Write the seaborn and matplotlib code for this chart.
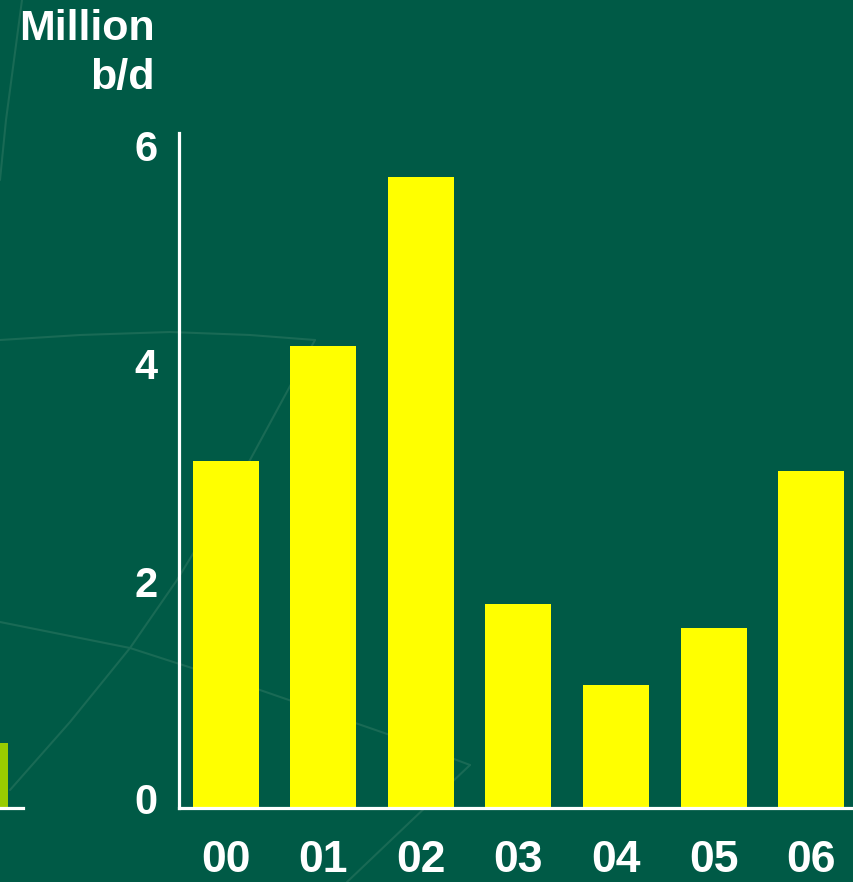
import matplotlib
matplotlib.use("Agg")
import matplotlib.pyplot as plt
import matplotlib.transforms as mtransforms
import seaborn as sns
import pandas as pd

# Crude oil supply changes, million barrels per day
years = ["00", "01", "02", "03", "04", "05", "06"]
values = [3.19, 4.24, 5.80, 1.87, 1.13, 1.65, 3.10]
y_ticks = [0, 2, 4, 6]

# Neighbouring panel, only its last bar shows at the edge
side_labels = ["06"]
side_values = [0.60]

BG = "#005A46"
BAR = "#FFFF00"
SIDE_BAR = "#99CC00"
WHITE = "#FFFFFF"
FAINT = "#196A55"

sns.set_theme(style="white")
plt.rcParams["font.family"] = ["Liberation Sans", "DejaVu Sans"]
plt.rcParams["font.weight"] = "bold"

W, H = 854, 882
fig = plt.figure(figsize=(W / 100, H / 100), dpi=100)
fig.patch.set_facecolor(BG)

# faint decorative curves in the backdrop
def px(points):
    xs = [p[0] / W for p in points]
    ys = [1 - p[1] / H for p in points]
    return xs, ys

decor = [
    [(22, 0), (14, 60), (6, 120), (0, 180)],
    [(0, 340), (80, 335), (170, 332), (250, 335), (315, 340)],
    [(315, 340), (250, 460), (177, 580), (130, 648), (70, 722), (10, 790)],
    [(0, 622), (130, 648), (260, 690), (390, 735), (470, 765)],
    [(470, 765), (410, 822), (347, 882)],
]
for seg in decor:
    xs, ys = px(seg)
    fig.add_artist(plt.Line2D(xs, ys, transform=fig.transFigure,
                              color=FAINT, lw=1.5, zorder=0))

bottom = 1 - 808 / H
top = 1 - 133 / H
ymax = 6.2

ax = fig.add_axes([179.5 / W, bottom, 1 - 179.5 / W, top - bottom])
ax.set_facecolor("none")
df = pd.DataFrame({"year": years, "value": values})
sns.barplot(data=df, x="year", y="value", color=BAR, saturation=1,
            width=0.677, ax=ax, edgecolor="none")
ax.set_xlim(-0.475, 6.44)
ax.set_ylim(0, ymax)
ax.set_yticks(y_ticks)
ax.set_yticklabels([str(t) for t in y_ticks])
ax.set_xlabel("")
ax.set_ylabel("")

for side in ["top", "right"]:
    ax.spines[side].set_visible(False)
for side in ["left", "bottom"]:
    ax.spines[side].set_color(WHITE)
    ax.spines[side].set_linewidth(2.3)

ax.tick_params(axis="both", length=0, colors=WHITE)
ax.tick_params(axis="y", pad=16, labelsize=30)
ax.tick_params(axis="x", pad=23, labelsize=32)
shift = mtransforms.ScaledTranslation(0, 9 / 100, fig.dpi_scale_trans)
for lab in ax.get_yticklabels():
    lab.set_transform(lab.get_transform() + shift)
    lab.set_fontweight("bold")
for lab in ax.get_xticklabels():
    lab.set_fontweight("bold")

fig.text(155 / W, 1 - 40 / H, "Million", ha="right", va="baseline",
         color=WHITE, fontsize=31, fontweight="bold")
fig.text(155 / W, 1 - 89 / H, "b/d", ha="right", va="baseline",
         color=WHITE, fontsize=31, fontweight="bold")

# edge of the neighbouring panel
unit = 97.5
left_px = 8 - (0.5 + 0.3385) * unit
right_px = 23
ax2 = fig.add_axes([left_px / W, bottom, (right_px - left_px) / W, top - bottom])
ax2.set_facecolor("none")
sdf = pd.DataFrame({"year": side_labels, "value": side_values})
sns.barplot(data=sdf, x="year", y="value", color=SIDE_BAR, saturation=1,
            width=0.677, ax=ax2, edgecolor="none")
ax2.set_xlim(-0.5, 0.3385 + 15 / unit)
ax2.set_ylim(0, ymax)
ax2.set_xticks([])
ax2.set_yticks([])
ax2.set_xlabel("")
ax2.set_ylabel("")
for side in ["top", "right", "left"]:
    ax2.spines[side].set_visible(False)
ax2.spines["bottom"].set_color(WHITE)
ax2.spines["bottom"].set_linewidth(2.3)

fig.savefig("out.png", dpi=100, facecolor=BG)
